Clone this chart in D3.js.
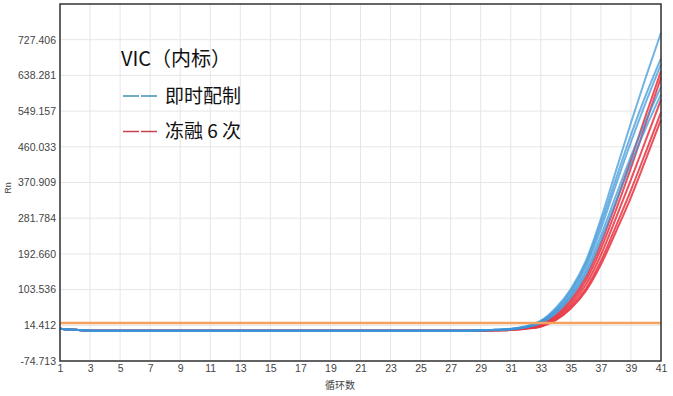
<!DOCTYPE html>
<html><head><meta charset="utf-8">
<script src="https://cdn.jsdelivr.net/npm/d3@7"></script>
<style>
html,body{margin:0;padding:0;background:#fff;}
svg{display:block;}
</style></head>
<body>
<svg id="chart" width="673" height="396"></svg>
<script>
// ---- data ----
const cycles = d3.range(1, 42);
const yTicks = [-74.713, 14.412, 103.536, 192.660, 281.784, 370.909, 460.033, 549.157, 638.281, 727.406];
const xTicks = [1,3,5,7,9,11,13,15,17,19,21,23,25,27,29,31,33,35,37,39,41];
const yDomain = [-74.713, 816.532];
const threshold = 20;
// flat baseline, cycles 1-28
const baseline = [6,3,1,1,1,1,1,1,1,1,1,1,1,1,1,1,1,1,1,1,1,1,1,1,1,1,1,1];
// cycles 29-41
const fresh1 = [2,3,6,12,26,58,105,175,280,400,520,635,745];
const fresh2 = [2,3,5,11,24,54,100,168,268,380,490,590,681];
const fresh3 = [2,3,5,10,22,50,94,160,255,365,472,572,666];
const fresh4 = [2,3,5,10,21,47,88,150,238,338,436,526,609];
const fresh5 = [2,2,4,9,19,44,84,142,226,322,418,508,591];
const thaw1 = [2,2,4,8,17,40,78,135,218,320,427,540,649];
const thaw2 = [2,2,4,7,15,36,72,126,205,302,407,520,633];
const thaw3 = [1,2,3,7,14,33,66,116,190,282,378,478,578];
const thaw4 = [1,2,3,6,12,29,60,106,175,262,352,448,546];
const thaw5 = [1,2,3,6,11,27,56,100,166,248,334,430,528];
const freshSeries = [fresh1, fresh2, fresh3, fresh4, fresh5];
const thawSeries = [thaw1, thaw2, thaw3, thaw4, thaw5];
const legendTitle = "VIC（内标）";
const legendItems = ["即时配制", "冻融 6 次"];

// ---- chart ----
const svg = d3.select("#chart");
const L = 60, R = 661, T = 4, B = 361;
const x = d3.scaleLinear().domain([1, 41]).range([L, R]);
const y = d3.scaleLinear().domain(yDomain).range([B, T]);

// grid
svg.append("g").selectAll("line").data(xTicks).join("line")
  .attr("x1", d => x(d)).attr("x2", d => x(d)).attr("y1", T).attr("y2", B)
  .attr("stroke", "#e6e6e6").attr("stroke-width", 1);
svg.append("g").selectAll("line").data(yTicks).join("line")
  .attr("x1", L).attr("x2", R).attr("y1", d => y(d)).attr("y2", d => y(d))
  .attr("stroke", "#e6e6e6").attr("stroke-width", 1);

// axes
const font = "'Liberation Sans', Arial, sans-serif";
const yAxis = svg.append("g").attr("transform", `translate(${L},0)`)
  .call(d3.axisLeft(y).tickValues(yTicks).tickSize(0).tickPadding(4).tickFormat(d => d.toFixed(3)));
const xAxis = svg.append("g").attr("transform", `translate(0,${B})`)
  .call(d3.axisBottom(x).tickValues(xTicks).tickSize(0).tickPadding(4));
[yAxis, xAxis].forEach(g => {
  g.select(".domain").remove();
  g.selectAll("text").attr("font-family", font).attr("font-size", 10.5).attr("fill", "#444");
});

// curves
const line = d3.line().x((d, i) => x(cycles[i])).y(d => y(d)).curve(d3.curveMonotoneX);
const gCurves = svg.append("g").attr("fill", "none").attr("stroke-width", 2);
thawSeries.forEach(s => {
  gCurves.append("path").datum(baseline.concat(s)).attr("d", line)
    .attr("stroke", "#e8333f").attr("stroke-opacity", 0.85);
});
freshSeries.forEach(s => {
  gCurves.append("path").datum(baseline.concat(s)).attr("d", line)
    .attr("stroke", "#3a96d8").attr("stroke-opacity", 0.72);
});

// threshold
svg.append("line").attr("x1", L).attr("x2", R).attr("y1", y(threshold)).attr("y2", y(threshold))
  .attr("stroke", "#f4a25e").attr("stroke-width", 2.5);

// frame
svg.append("rect").attr("x", L).attr("y", T).attr("width", R - L).attr("height", B - T)
  .attr("fill", "none").attr("stroke", "#333").attr("stroke-width", 1.5);

// axis titles
svg.append("text").attr("transform", "translate(11,188) rotate(-90)")
  .attr("text-anchor", "middle").attr("font-family", font).attr("font-size", 9).attr("fill", "#444").text("Rn");
svg.append("text").attr("x", 340).attr("y", 389).attr("text-anchor", "middle")
  .attr("font-family", "'Noto Sans CJK SC', sans-serif").attr("font-size", 10).attr("fill", "#444").text("循环数");

// legend
const lf = "'Noto Sans CJK SC', sans-serif";
svg.append("text").attr("x", 121).attr("y", 66).attr("font-family", lf).attr("font-size", 20)
  .attr("fill", "#111").text(legendTitle);
const legendColors = ["#3d8fb5", "#c9404c"];
legendItems.forEach((t, i) => {
  const cy = 96 + i * 35.5;
  [[123, 139], [141, 157]].forEach(([a, b]) => {
    svg.append("line").attr("x1", a).attr("x2", b).attr("y1", cy).attr("y2", cy)
      .attr("stroke", legendColors[i]).attr("stroke-width", 1.5);
  });
  svg.append("text").attr("x", 165).attr("y", cy).attr("dy", "0.36em").attr("font-family", lf)
    .attr("font-size", 19).attr("fill", "#111").text(t);
});
</script>
</body></html>
